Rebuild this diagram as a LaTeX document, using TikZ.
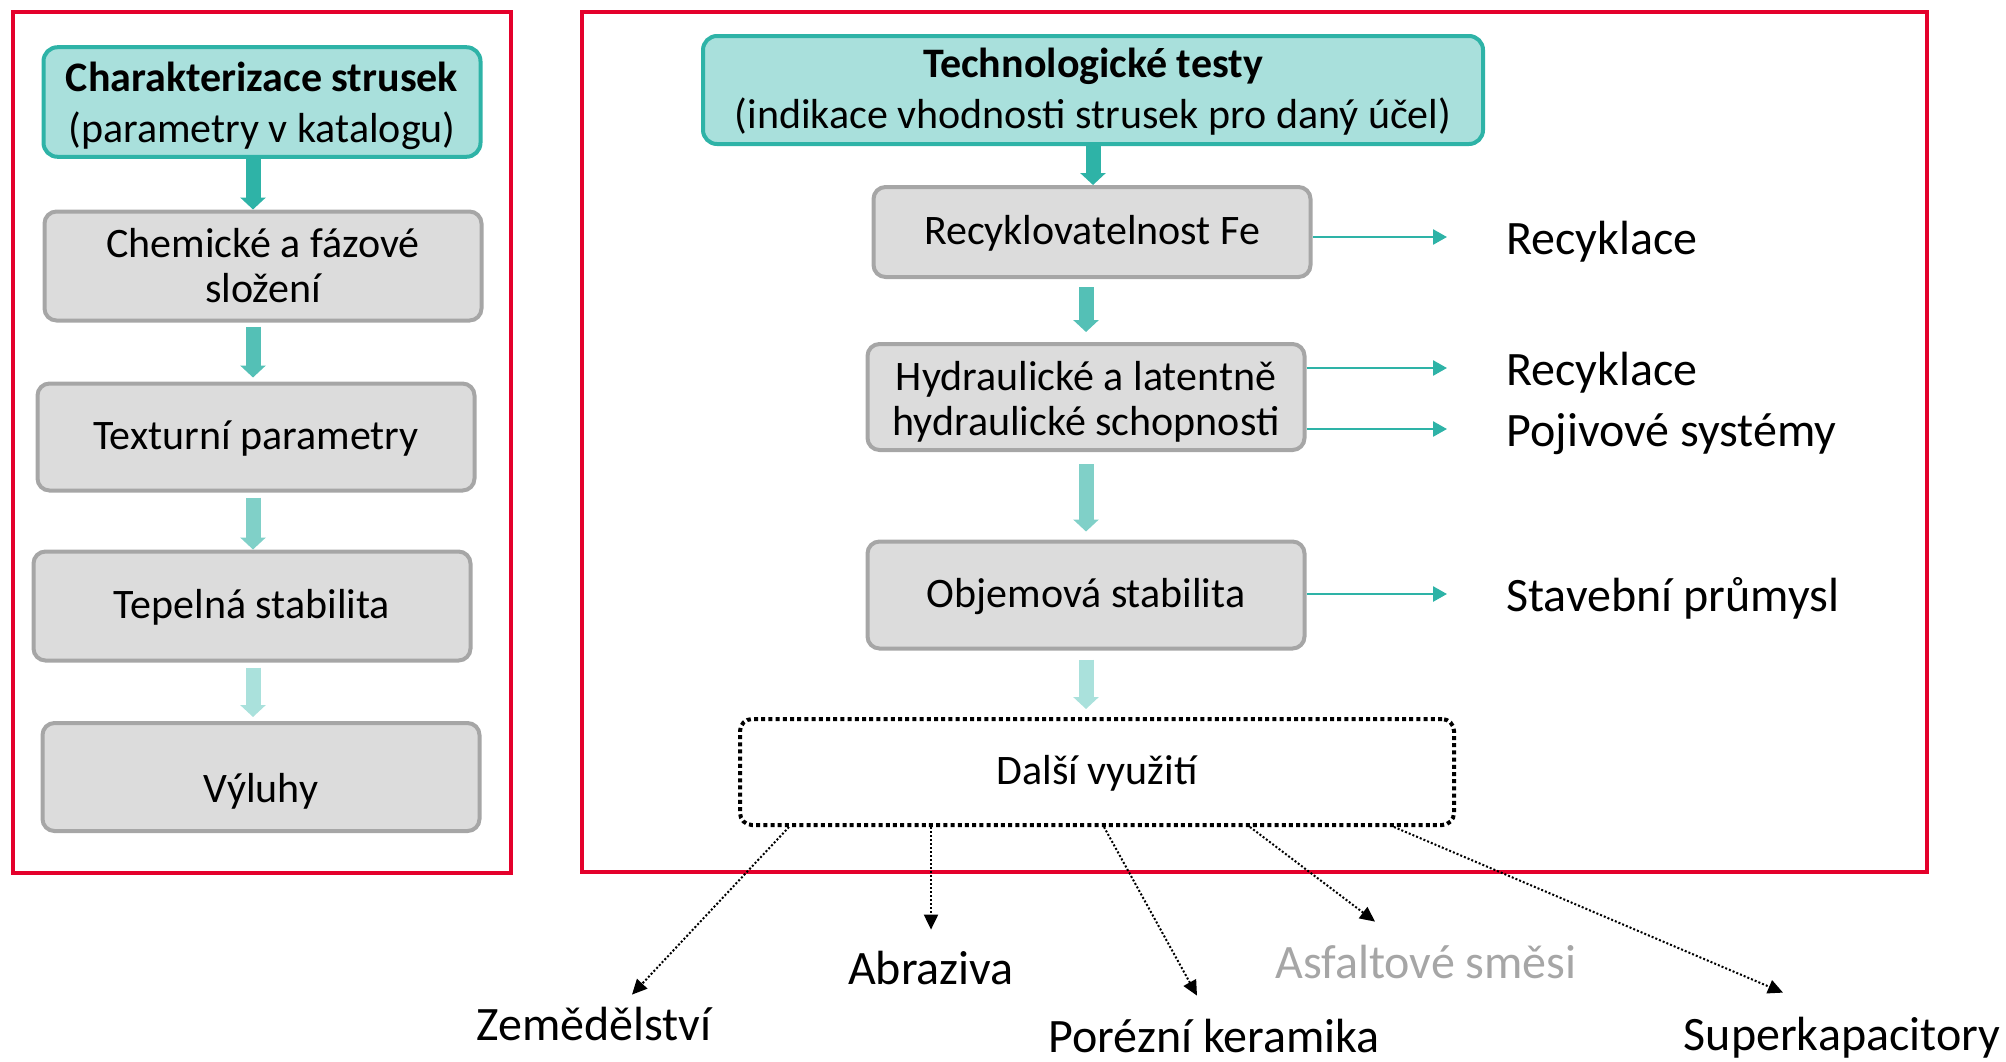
\documentclass[tikz,border=0pt]{standalone}
\usepackage{fontspec}
\setmainfont{Carlito}
\usetikzlibrary{arrows.meta}
\definecolor{cervena}{RGB}{228,0,43}
\definecolor{tyrkys}{RGB}{46,179,167}
\definecolor{tyrkys2}{RGB}{84,192,182}
\definecolor{tyrkys3}{RGB}{128,208,200}
\definecolor{tyrkys4}{RGB}{170,225,220}
\definecolor{hlavavypln}{RGB}{169,224,220}
\definecolor{sedavypln}{RGB}{220,220,220}
\definecolor{sedacara}{RGB}{166,166,166}
\begin{document}
\begin{tikzpicture}
		[x=0.5pt,y=-0.5pt,
		ramec/.style={draw=cervena,line width=2pt},
		hlava/.style={draw=tyrkys,fill=hlavavypln,line width=2pt,rounded corners=7pt,minimum width=218.5pt,minimum height=54pt,align=center,font=\fontsize{21pt}{25.5pt}\selectfont},
		krok/.style={draw=sedacara,fill=sedavypln,line width=2pt,rounded corners=6pt,minimum width=218.5pt,align=center,font=\fontsize{21pt}{22.5pt}\selectfont},
		radek/.style={text height=16pt,text depth=4pt},
		dalsibox/.style={draw,line width=2pt,dash pattern=on 2pt off 1.6pt,rounded corners=6pt,minimum width=357pt,minimum height=53pt,font=\fontsize{21pt}{22.5pt}\selectfont},
		sipka/.style={line width=7.5pt,-{Triangle[length=6pt,width=12.5pt]}},
		tenka/.style={draw=tyrkys,line width=1.3pt,-{Triangle[length=7pt,width=7.5pt]}},
		popis/.style={anchor=west,inner sep=0pt,text height=23pt,text depth=5.2pt,font=\fontsize{24pt}{28pt}\selectfont},
		vyuziti/.style={anchor=base,inner sep=0pt,text height=18pt,text depth=5pt,font=\fontsize{24pt}{28pt}\selectfont},
		tecky/.style={line width=1pt,dash pattern=on 1pt off 1pt,-{Triangle[length=7.5pt,width=7pt]}}]
		\useasboundingbox (0,0) rectangle (2006,1061);
		\draw[ramec] (13,12) rectangle (511,873);
		\draw[ramec] (582,12) rectangle (1927,872);
		\node[hlava,name=charakter] at (262,102) {\rule{0pt}{19pt}\textbf{Charakterizace strusek}\\(parametry v katalogu)};
		\node[krok,name=slozeni,minimum height=54.5pt] at (263,266) {Chemické a fázové\\složení};
		\node[krok,radek,name=textura,minimum height=53.5pt] at (256,437) {Texturní parametry};
		\node[krok,radek,name=tepelna,minimum height=54.5pt] at (252,606) {Tepelná stabilita};
		\node[krok,name=vyluhy,minimum height=54pt,text height=29pt,text depth=4pt] at (261,777) {Výluhy};
		\coordinate (osa) at (253,0);
		\draw[sipka,tyrkys] (charakter.south -| osa) -- (slozeni.north -| osa);
		\draw[sipka,tyrkys2,shorten <=2pt,shorten >=2pt] (slozeni.south -| osa) -- (textura.north -| osa);
		\draw[sipka,tyrkys3,shorten <=2.5pt] (textura.south -| osa) -- (tepelna.north -| osa);
		\draw[sipka,tyrkys4,shorten <=2.5pt,shorten >=2pt] (tepelna.south -| osa) -- (vyluhy.north -| osa);
		\node[hlava,name=testy,minimum width=390pt] at (1093,90) {\rule{0pt}{16.5pt}\textbf{Technologické testy}\\(indikace vhodnosti strusek pro daný účel)};
		\node[krok,radek,name=recfe,minimum height=45pt] at (1092,232) {Recyklovatelnost Fe};
		\node[krok,name=hydraulika,minimum height=53pt] at (1086,397) {\rule{0pt}{19pt}Hydraulické a latentně\\hydraulické schopnosti};
		\node[krok,radek,name=objem,minimum height=53.5pt] at (1086,595) {Objemová stabilita};
		\node[dalsibox,radek,name=dalsi] at (1097,772) {Další využití};
		\draw[sipka,tyrkys] (testy.south) -- (testy.south |- recfe.north);
		\draw[sipka,tyrkys2,shorten <=4pt,shorten >=5pt] (recfe.south -| hydraulika) -- (hydraulika.north);
		\draw[sipka,tyrkys3,shorten <=6pt,shorten >=4pt] (hydraulika.south) -- (objem.north);
		\draw[sipka,tyrkys4,shorten <=4.5pt,shorten >=4pt] (objem.south) -- (dalsi.north -| objem);
		\node[popis,name=rec1] at (1506,237) {Recyklace};
		\node[popis,name=rec2] at (1506,368) {Recyklace};
		\node[popis,name=pojivo] at (1506,429) {Pojivové systémy};
		\node[popis,name=stavba] at (1506,594) {Stavební průmysl};
		\draw[tenka,shorten >=29.5pt] (recfe.east |- rec1) -- (rec1.west);
		\draw[tenka,shorten >=29.5pt] (hydraulika.east |- rec2) -- (rec2.west);
		\draw[tenka,shorten >=29.5pt] (hydraulika.east |- pojivo) -- (pojivo.west);
		\draw[tenka,shorten >=29.5pt] (objem.east |- stavba) -- (stavba.west);
		\node[vyuziti,name=zem] at (594,1040) {Zemědělství};
		\node[vyuziti,name=abr] at (931,984) {Abraziva};
		\node[vyuziti,name=por] at (1214,1052) {Porézní keramika};
		\node[vyuziti,name=asf,text=sedacara] at (1426,978) {Asfaltové směsi};
		\node[vyuziti,name=sup] at (1842,1050) {Superkapacitory};
		\foreach \cil/\sx/\ex/\ey in {zem/-308/38/-9,abr/-166/0/-18,por/7/-17/-20,asf/153/-51/-20,sup/297/-59/-21}
		{
			\draw[tecky] ([shift={(\sx,0)}]dalsi.south) -- ([shift={(\ex,\ey)}]\cil.north);
		}
	\end{tikzpicture}
\end{document}
